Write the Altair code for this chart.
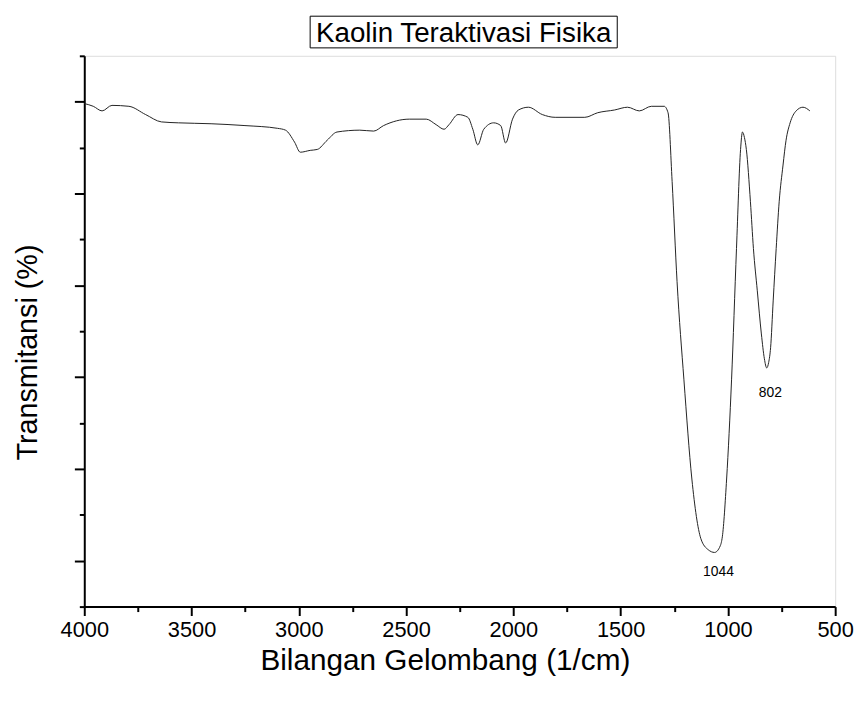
import altair as alt
import pandas as pd

# ---- data ----
wavenumber = [4000, 3958, 3917, 3871, 3792, 3714, 3640, 3561, 3409, 3251,
              3099, 3062, 3020, 2993, 2947, 2914, 2868, 2822, 2716, 2651,
              2605, 2485, 2406, 2360, 2323, 2300, 2258, 2212, 2189, 2166,
              2138, 2092, 2059, 2036, 2004, 1976, 1930, 1865, 1805, 1667,
              1607, 1528, 1468, 1413, 1357, 1297, 1279, 1260, 1237, 1205,
              1168, 1126, 1092, 1062, 1036, 1026, 1006, 983, 960, 941,
              932, 923, 914, 895, 881,
              863, 844, 830, 819, 810, 801, 789, 775, 761, 743,
              729, 710, 682, 650, 618]
transmittance = [54.8, 54.5, 54.0, 54.6, 54.5, 53.6, 52.8, 52.7, 52.6, 52.4,
                 52.1, 51.9, 50.6, 49.5, 49.7, 49.8, 50.8, 51.7, 51.9, 51.8,
                 52.4, 53.1, 53.1, 52.5, 52.0, 52.5, 53.6, 53.3, 52.0, 50.3,
                 52.0, 52.7, 52.4, 50.5, 53.1, 54.1, 54.4, 53.6, 53.3, 53.3,
                 53.8, 54.1, 54.4, 54.0, 54.5, 54.5, 53.8, 46.3, 35.4, 24.7,
                 13.9, 7.4, 6.2, 5.9, 6.6, 7.6, 13.9, 24.7, 39.0, 49.8,
                 51.7, 51.1, 49.8, 44.1, 39.0,
                 34.4, 29.7, 27.0, 26.0, 26.6, 28.2, 33.3, 39.0, 44.1, 48.1,
                 50.8, 52.7, 54.0, 54.4, 54.0]

peak_labels = ["1044", "802"]
peak_x = [1044, 802]
peak_y = [3.8, 23.3]

x_ticks = list(range(500, 4001, 250))
y_ticks = list(range(0, 61, 5))

chart_title = "Kaolin Teraktivasi Fisika"
x_title = "Bilangan Gelombang (1/cm)"
y_title = "Transmitansi (%)"

FONT = "Liberation Sans"

df = pd.DataFrame({"w": wavenumber, "t": transmittance})
ann = pd.DataFrame({"w": peak_x, "t": peak_y, "label": peak_labels})

x_scale = alt.Scale(domain=[4000, 500], nice=False, zero=False)
y_scale = alt.Scale(domain=[0, 60], nice=False, zero=False)

x_axis = alt.Axis(
    values=x_ticks, format="d",
    labelExpr="datum.value % 500 == 0 ? datum.label : ''",
    tickSize={"condition": {"test": "datum.value % 500 == 0", "value": 9}, "value": 5},
    tickWidth=2, tickColor="black", domainWidth=2, domainColor="black",
    labelFont=FONT, labelFontSize=22, labelColor="black", labelPadding=4,
    labelFlush=False, labelOverlap=False, grid=False,
    title=x_title, titleFont=FONT, titleFontSize=30, titleFontWeight="normal",
    titleColor="black", titleX=364, titleY=63, titleBaseline="alphabetic",
    titleAlign="center",
)
y_axis = alt.Axis(
    values=y_ticks, labels=False,
    tickSize={"condition": {"test": "datum.value % 10 == 5", "value": 10}, "value": 5},
    tickWidth=2, tickColor="black", domainWidth=2, domainColor="black", grid=False,
    title=y_title, titleFont=FONT, titleFontSize=29, titleFontWeight="normal",
    titleColor="black", titleX=-48, titleY=299, titleAngle=270,
    titleBaseline="alphabetic", titleAlign="center",
)

line = alt.Chart(df).mark_line(color="#222222", strokeWidth=1, interpolate="monotone").encode(
    x=alt.X("w:Q", scale=x_scale, axis=x_axis),
    y=alt.Y("t:Q", scale=y_scale, axis=y_axis),
    order=alt.Order("w:Q", sort="descending"),
)

labels = alt.Chart(ann).mark_text(font=FONT, fontSize=14, color="black").encode(
    x=alt.X("w:Q", scale=x_scale),
    y=alt.Y("t:Q", scale=y_scale),
    text="label:N",
)

title_df = pd.DataFrame({"text": [chart_title]})
title_text = alt.Chart(title_df).mark_text(
    font=FONT, fontSize=28, color="black", baseline="alphabetic", align="center"
).encode(x=alt.value(383), y=alt.value(-14), text="text:N")

title_box = alt.Chart(title_df).mark_rect(
    filled=False, color="black", strokeWidth=1
).encode(x=alt.value(228), x2=alt.value(538), y=alt.value(-40), y2=alt.value(-8))

chart = alt.layer(line, labels, title_box, title_text).properties(
    width=758, height=556,
    autosize=alt.AutoSizeParams(type="none"),
    padding={"left": 77, "top": 45, "right": 19, "bottom": 90},
).configure_view(stroke=None).configure(background="white")

chart.save("out.html", embed_options={"renderer": "svg", "actions": False})
